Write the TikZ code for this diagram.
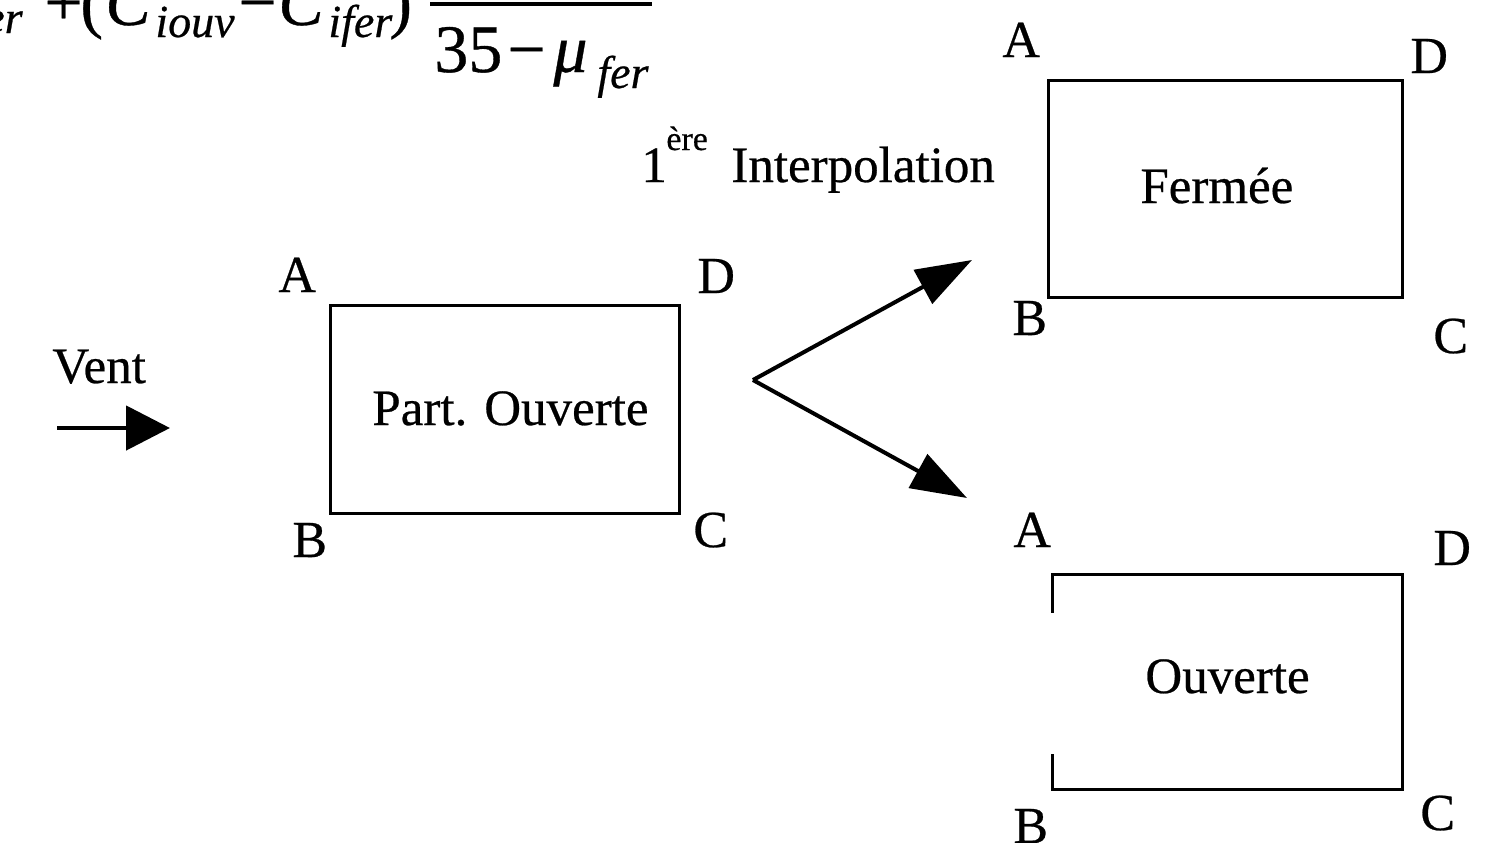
\documentclass[tikz,border=0pt]{standalone}
\usepackage{fontspec}
\setmainfont{Liberation Serif}[FakeBold=0.5]
\usetikzlibrary{arrows.meta}
\begin{document}
\begin{tikzpicture}[x=0.5pt,y=-0.5pt,
  lbl/.style={anchor=base west,inner sep=0pt,font=\fontsize{26}{30}\selectfont},
  txt/.style={anchor=base west,inner sep=0pt,font=\fontsize{25.5}{30}\selectfont},
  fm/.style={anchor=base west,inner sep=0pt,font=\fontsize{34}{40}\selectfont\itshape},
  fup/.style={anchor=base west,inner sep=0pt,font=\fontsize{34}{40}\selectfont},
  fsub/.style={anchor=base west,inner sep=0pt,font=\fontsize{23}{26}\selectfont\itshape},
  boxline/.style={line width=1.5pt},
  bigarrow/.style={line width=2pt,-{Triangle[length=28pt,width=19pt]}},
  ventarrow/.style={line width=2.4pt,-{Triangle[length=22pt,width=22pt]}}]
\useasboundingbox (0,0) rectangle (1490,842);
\clip (0,0) rectangle (1490,842);
% formula (cut at top)
\node[fsub,anchor=base east] (s0) at (23,33) {ifer};
\node[fup] (plus) at (44,25) {+};
\node[fup] (lp) at (80,25) {(};
\node[fm] (c1) at (105,25) {C};
\node[fsub] (s1) at (155,37) {iouv};
\node[fup] (mi1) at (238,25) {−};
\node[fm] (c2) at (278,25) {C};
\node[fsub] (s2) at (328,37) {ifer};
\node[fup] (rp) at (389,25) {)};
\coordinate (barL) at (430,4);
\coordinate (barR) at (652,4);
\draw[line width=2pt] (barL) -- (barR);
\node[fup] (n35) at (434,72) {35};
\node[fup] (mi2) at (507,72) {−};
\node[fm] (mu) at (553,72) {μ};
\node[fsub] (s3) at (597,88) {fer};
% wind
\node[txt] (vent) at (52,383) {Vent};
\coordinate (v0) at (57,428);
\coordinate (v1) at (170,428);
\draw[ventarrow] (v0) -- (v1);
% box 1
\node[boxline,draw,minimum width=349*0.5pt,minimum height=208*0.5pt,inner sep=0pt] (b1) at (504.5,409) {};
\node[txt] (t1) at (372,425) {Part. Ouverte};
\node[lbl] (b1A) at (278,292) {A};
\node[lbl] (b1D) at (697,293) {D};
\node[lbl] (b1B) at (292,557) {B};
\node[lbl] (b1C) at (693,547) {C};
% split arrows
\coordinate (vx) at (753,380);
\coordinate (up) at (972,260);
\coordinate (dn) at (967,498);
\draw[bigarrow] (vx) -- (up);
\draw[bigarrow] (vx) -- (dn);
\node[txt] (one) at (641,182) {1};
\node[anchor=base west,inner sep=0pt,font=\fontsize{17}{20}\selectfont] (ere) at (666,150) {ère};
\node[txt] (interp) at (731,182) {Interpolation};
% box 2 Fermee
\node[boxline,draw,minimum width=354*0.5pt,minimum height=217*0.5pt,inner sep=0pt] (b2) at (1225,188.5) {};
\node[txt] (t2) at (1140,203) {Fermée};
\node[lbl] (b2A) at (1002,57) {A};
\node[lbl] (b2D) at (1410,73) {D};
\node[lbl] (b2B) at (1012,335) {B};
\node[lbl] (b2C) at (1433,353) {C};
% box 3 Ouverte (open on left)
\node[minimum width=349*0.5pt,minimum height=214*0.5pt,inner sep=0pt] (b3) at (1227.5,682) {};
\draw[boxline] ([yshift=-38*0.5pt]b3.north west) -- (b3.north west) -- (b3.north east) -- (b3.south east) -- (b3.south west) -- ([yshift=35*0.5pt]b3.south west);
\node[txt] (t3) at (1145,693) {Ouverte};
\node[lbl] (b3A) at (1013,547) {A};
\node[lbl] (b3D) at (1433,565) {D};
\node[lbl] (b3B) at (1013,843) {B};
\node[lbl] (b3C) at (1420,830) {C};
\end{tikzpicture}
\end{document}
